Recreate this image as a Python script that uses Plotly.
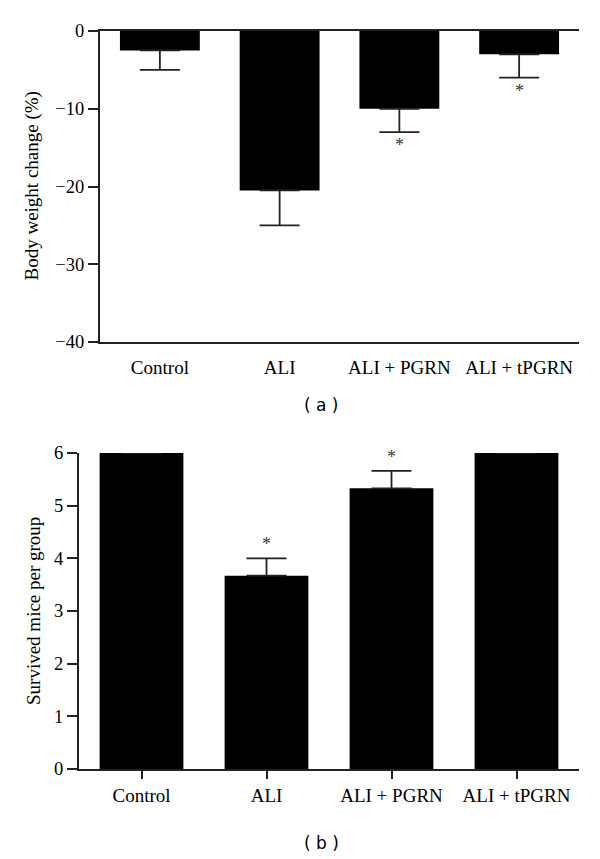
import plotly.graph_objects as go

categories = ["Control", "ALI", "ALI + PGRN", "ALI + tPGRN"]
weight_change = [-2.5, -20.5, -10.0, -3.0]
weight_err = [2.5, 4.5, 3.0, 3.0]
weight_sig = [False, False, True, True]
survived = [6.0, 3.67, 5.33, 6.0]
survived_err = [0.0, 0.33, 0.33, 0.0]
survived_sig = [False, True, True, False]
weight_ticks = [0, -10, -20, -30, -40]
weight_ticklabels = ["0", "−10", "−20", "−30", "−40"]
survived_ticks = [0, 1, 2, 3, 4, 5, 6]

W, H = 600, 859
SERIF = "Liberation Serif"
AX = "#222222"

fig = go.Figure()

fig.add_trace(go.Bar(
    x=categories, y=weight_change, xaxis="x", yaxis="y",
    marker=dict(color="black", line=dict(width=0)), width=0.667,
    error_y=dict(type="data", symmetric=False,
                 array=[0] * len(weight_err), arrayminus=weight_err,
                 color=AX, thickness=1.8, width=20),
    showlegend=False,
))
fig.add_trace(go.Bar(
    x=categories, y=survived, xaxis="x2", yaxis="y2",
    marker=dict(color="black", line=dict(width=0)), width=0.67,
    error_y=dict(type="data", symmetric=False,
                 array=survived_err, arrayminus=[0] * len(survived_err),
                 color=AX, thickness=1.8, width=20),
    showlegend=False,
))

annotations = []
for c, v, e, s in zip(categories, weight_change, weight_err, weight_sig):
    if s:
        annotations.append(dict(x=c, y=v - e, xref="x", yref="y", text="*",
                                showarrow=False, yanchor="top", yshift=-1,
                                font=dict(family=SERIF, size=18, color="#333")))
for c, v, e, s in zip(categories, survived, survived_err, survived_sig):
    if s:
        annotations.append(dict(x=c, y=v + e, xref="x2", yref="y2", text="*",
                                showarrow=False, yanchor="bottom", yshift=2,
                                font=dict(family=SERIF, size=18, color="#333")))

annotations += [
    dict(x=32 / W, y=1 - 186.5 / H, xref="paper", yref="paper",
         xanchor="center", yanchor="middle",
         text="Body weight change (%)", textangle=-90, showarrow=False,
         font=dict(family=SERIF, size=19, color="black")),
    dict(x=33 / W, y=1 - 611 / H, xref="paper", yref="paper",
         xanchor="center", yanchor="middle",
         text="Survived mice per group", textangle=-90, showarrow=False,
         font=dict(family=SERIF, size=19, color="black")),
    dict(x=321 / W, y=1 - 405 / H, xref="paper", yref="paper",
         xanchor="center", yanchor="middle",
         text="( a )", showarrow=False,
         font=dict(family="DejaVu Sans", size=17, color="black")),
    dict(x=321 / W, y=1 - 843 / H, xref="paper", yref="paper",
         xanchor="center", yanchor="middle",
         text="( b )", showarrow=False,
         font=dict(family="DejaVu Sans", size=17, color="black")),
]

tickfont = dict(family=SERIF, size=18.5, color="black")
labfont = dict(family=SERIF, size=19, color="black")

fig.update_layout(
    template="none",
    width=W, height=H,
    margin=dict(l=0, r=0, t=0, b=0, pad=0, autoexpand=False),
    paper_bgcolor="white", plot_bgcolor="white",
    bargap=0.33,
    annotations=annotations,
    xaxis=dict(domain=[100 / W, 579 / W], anchor="y", automargin=False,
               range=[-0.5, 3.5], showline=True, linecolor=AX, linewidth=2,
               mirror=True, ticks="outside", ticklen=7,
               tickcolor="rgba(0,0,0,0)", showgrid=False, zeroline=False,
               tickfont=labfont),
    yaxis=dict(domain=[1 - 342 / H, 1 - 31 / H], anchor="x", automargin=False,
               range=[-40, 0], showline=True, linecolor=AX, linewidth=2,
               ticks="outside", ticklen=10, tickwidth=2, tickcolor=AX,
               tickvals=weight_ticks, ticktext=weight_ticklabels,
               showgrid=False, zeroline=False, tickfont=tickfont),
    xaxis2=dict(domain=[79 / W, 579 / W], anchor="y2", automargin=False,
                range=[-0.5, 3.5], showline=True, linecolor=AX, linewidth=2,
                ticks="outside", ticklen=8, tickwidth=2, tickcolor=AX,
                showgrid=False, zeroline=False, tickfont=labfont),
    yaxis2=dict(domain=[1 - 769 / H, 1 - 453 / H], anchor="x2", automargin=False,
                range=[0, 6], showline=True, linecolor=AX, linewidth=2,
                ticks="outside", ticklen=10, tickwidth=2, tickcolor=AX,
                tickvals=survived_ticks, showgrid=False, zeroline=False,
                tickfont=tickfont),
)

fig.write_html("out.html",
               config={"displayModeBar": False},
               post_script="document.body.style.margin='0px';"
                           "document.body.style.overflow='hidden';")
